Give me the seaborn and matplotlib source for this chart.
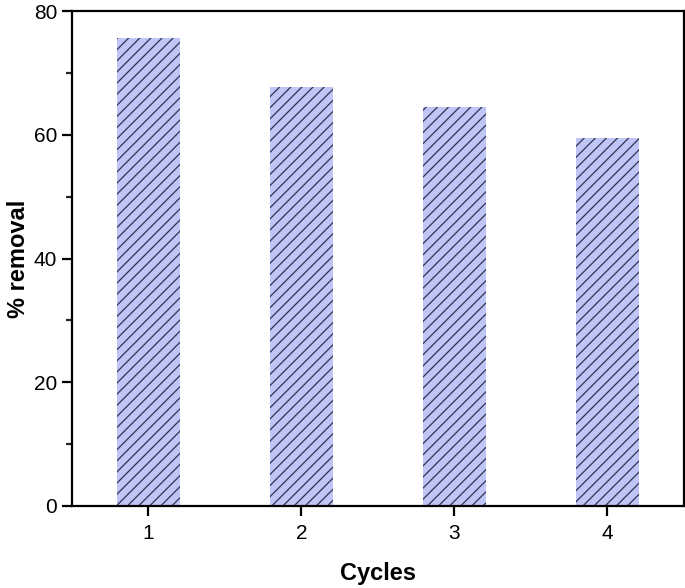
import pandas as pd
import matplotlib.pyplot as plt
import seaborn as sns
from matplotlib.ticker import MultipleLocator

# Data
cycles = ["1", "2", "3", "4"]
removal = [75.6, 67.7, 64.5, 59.5]

df = pd.DataFrame({"Cycles": cycles, "removal": removal})

sns.set_style("ticks")
plt.rcParams['font.family'] = ['Liberation Sans', 'DejaVu Sans']
plt.rcParams['hatch.linewidth'] = 0.9
plt.rcParams['text.color'] = 'black'
plt.rcParams['axes.labelcolor'] = 'black'

fig = plt.figure(figsize=(6.85, 5.88), dpi=100)
ax = fig.add_axes([0.105, 0.1395, 0.8935, 0.8415])

sns.barplot(
    x="Cycles",
    y="removal",
    data=df,
    color="#bfc5f7",
    saturation=1,
    width=0.41,
    hatch="///",
    edgecolor="#30344f",
    linewidth=0,
    ax=ax
)

ax.set_xlim(-0.5, 3.5)
ax.set_ylim(0, 80)
ax.yaxis.set_major_locator(MultipleLocator(20))
ax.yaxis.set_minor_locator(MultipleLocator(10))

for s in ax.spines.values():
    s.set_visible(True)
    s.set_linewidth(1.6)
    s.set_color("black")

ax.tick_params(axis="both", which="major", direction="out", length=7, width=1.6,
               labelsize=15, colors="black")
ax.tick_params(axis="y", which="minor", direction="out", length=4, width=1.6)
ax.tick_params(axis="x", pad=6)

ax.set_xlabel("Cycles", fontsize=17, fontweight="bold", labelpad=14)
ax.set_ylabel("% removal", fontsize=17, fontweight="bold", labelpad=3)

plt.savefig("out.png", dpi=100)
